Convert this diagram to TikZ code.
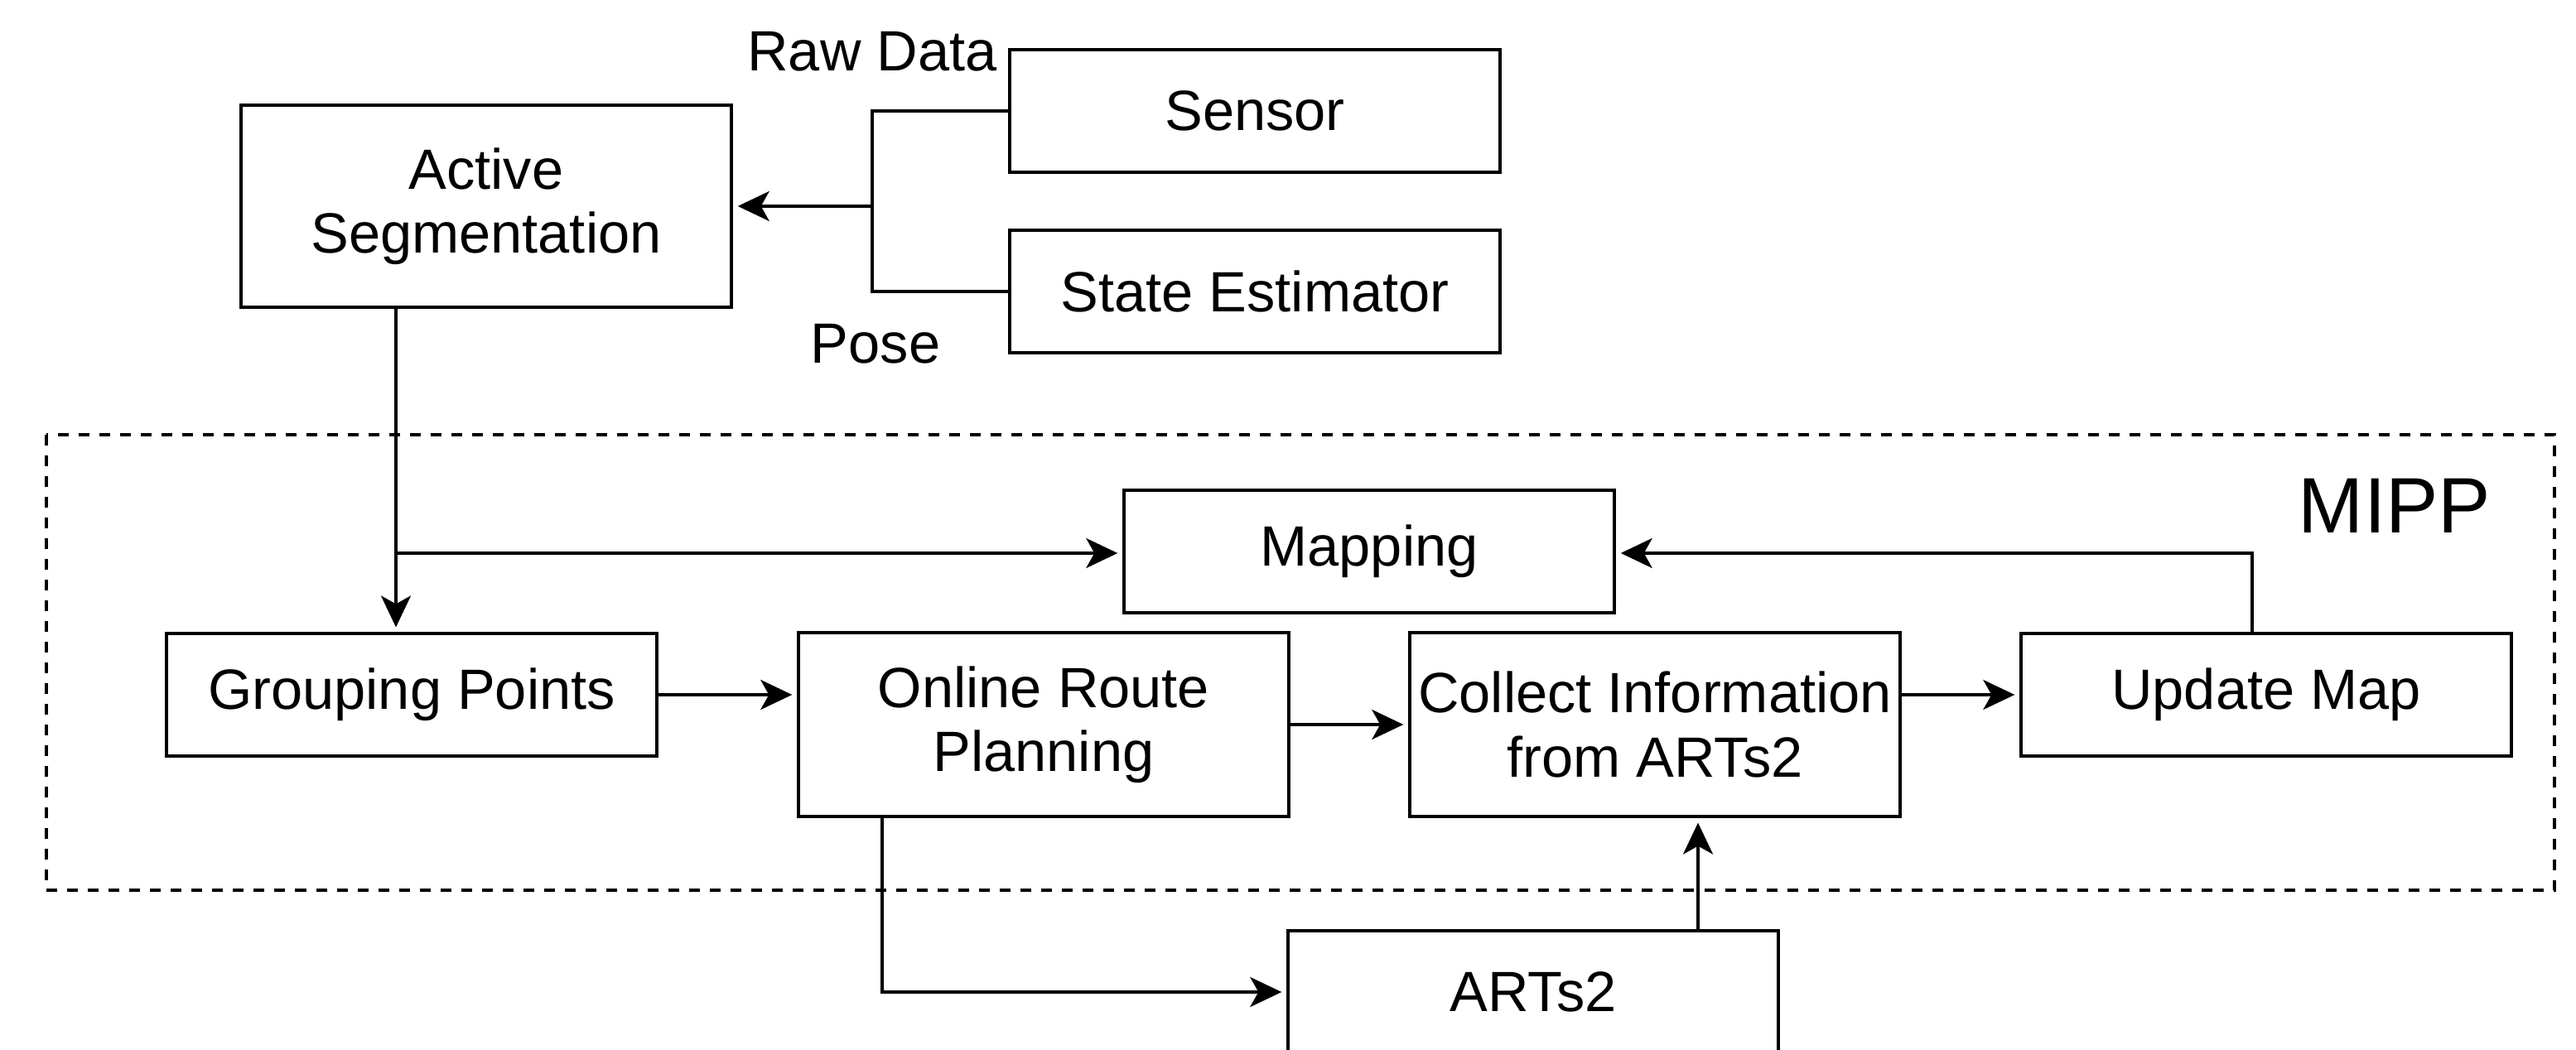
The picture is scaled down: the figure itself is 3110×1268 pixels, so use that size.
\documentclass[tikz,border=0pt]{standalone}
\usepackage{fontspec}
\setmainfont{Liberation Sans}
\usetikzlibrary{arrows.meta,positioning}
\begin{document}
\begin{tikzpicture}[x=0.01cm,y=-0.01cm,
  box/.style={draw=black,line width=1.15pt,minimum width=5.91cm,minimum height=1.47cm,inner sep=0pt,align=center,font=\fontsize{19.5}{22}\selectfont},
  tall/.style={box,minimum height=2.21cm},
  lbl/.style={font=\fontsize{19.5}{22}\selectfont,inner sep=0pt},
  conn/.style={line width=1pt},
  arr/.style={conn,-{Stealth[length=0.38cm,width=0.36cm,inset=0.1cm]},shorten >=0.06cm},
  ]
\useasboundingbox (0,0) rectangle (3110,1268);
% MIPP container
\draw[line width=1.1pt,dash pattern=on 0.13cm off 0.12cm] (56,525) rectangle (3084,1075);
\node[inner sep=0pt,font=\fontsize{27}{30}\selectfont] (mipp) at (2891,611) {MIPP};
% boxes
\node[box] (sensor) at (1515,134) {Sensor};
\node[box] (state) at (1515,352) {State Estimator};
\node[box,minimum height=2.44cm] (seg) at (587,249) {Active\\Segmentation};
\node[box] (map) at (1653,666) {Mapping};
\node[box] (grp) at (497,839) {Grouping Points};
\node[tall] (onl) at (1260,875) {Online Route\\Planning};
\node[tall] (col) at (1998,875) {Collect Information\\from ARTs2};
\node[box] (upd) at (2736,839) {Update Map};
\node[box] (arts) at (1851,1198) {ARTs2};
% labels
\node[lbl] (raw) at (1053,62) {Raw Data};
\node[lbl] (pose) at (1057,415) {Pose};
% connectors
\coordinate (jn) at (1053,249);
\draw[conn] (sensor.west) -| (jn) |- (state.west);
\draw[arr] (jn) -- (seg.east);
\coordinate (ax) at (478,668);
\draw[conn] (seg.south -| ax) -- (ax);
\draw[arr] (ax) -- (grp.north -| ax);
\draw[arr] (ax) -- (map.west |- ax);
\draw[arr] (grp.east) -- (grp.east -| onl.west);
\draw[arr] (onl.east) -- (col.west);
\draw[arr] (upd.west -| col.east) -- (upd.west);
\coordinate (uq) at (2719,668);
\draw[arr] (upd.north -| uq) -- (uq) -- (map.east |- uq);
\coordinate (oq) at (1065,1198);
\draw[arr] (onl.south -| oq) -- (oq) -- (arts.west);
\coordinate (aq) at (2050,1124);
\draw[arr] (arts.north -| aq) -- (col.south -| aq);
\end{tikzpicture}
\end{document}
